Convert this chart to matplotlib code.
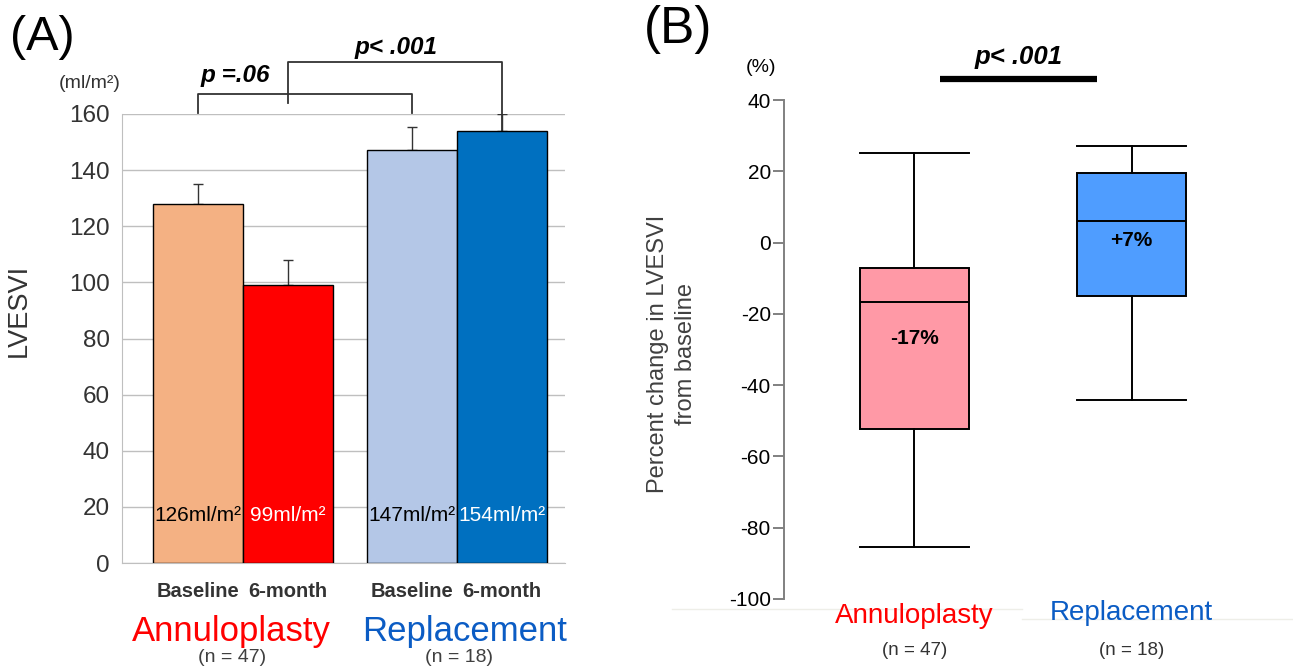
import matplotlib
matplotlib.use("Agg")
import matplotlib.pyplot as plt

# ====================================
# DATA
# ====================================

bar_groups = ["Annuloplasty", "Replacement"]
group_n = ["(n = 47)", "(n = 18)"]
bar_timepoints = ["Baseline", "6-month", "Baseline", "6-month"]
lvesvi_mean = [128, 99, 147, 154]
lvesvi_err = [7, 9, 8.5, 6]
bar_text = ["126ml/m\u00b2", "99ml/m\u00b2", "147ml/m\u00b2", "154ml/m\u00b2"]
p_values_a = ["p =.06", "p< .001"]

box_groups = ["Annuloplasty", "Replacement"]
box_whislo = [-85.4, -44.2]
box_q1 = [-52.4, -15.0]
box_med = [-16.7, 6.1]
box_q3 = [-7.1, 19.6]
box_whishi = [25.0, 27.2]
box_text = ["-17%", "+7%"]
p_value_b = "p< .001"

# ====================================
# STYLE
# ====================================

plt.rcParams["font.family"] = ["Liberation Sans", "DejaVu Sans"]
plt.rcParams["axes.unicode_minus"] = False

W, H = 1293, 670

def fx(px):
    return px / W

def fy(py):
    return 1 - py / H

bar_colors = ["#F4B183", "#FF0000", "#B4C7E7", "#0070C0"]
bar_text_colors = ["black", "white", "black", "white"]
group_colors = ["#FF0000", "#0B5CC4"]
box_colors = ["#FF99A6", "#4F9DFF"]
grid_gray = "#BFBFBF"

fig = plt.figure(figsize=(W / 100, H / 100), dpi=100)

# ====================================
# PANEL A
# ====================================

axA = fig.add_axes([fx(122), fy(563), fx(565 - 122), (563 - 114) / H])
x_pos = [0, 1, 2.383, 3.378]

axA.bar(x_pos, lvesvi_mean, width=1.0, color=bar_colors,
        edgecolor="black", linewidth=1.0, zorder=3)
axA.errorbar(x_pos, lvesvi_mean,
             yerr=[[0] * len(lvesvi_err), lvesvi_err],
             fmt="none", ecolor="#333333", elinewidth=1.0,
             capsize=3.5, zorder=2)

axA.set_xlim(-0.844, 4.08)
axA.set_ylim(0, 160)
axA.set_yticks(range(0, 161, 20))
axA.set_xticks([])
axA.grid(axis="y", color=grid_gray, linewidth=1.0, zorder=0)
for s in ["top", "right"]:
    axA.spines[s].set_visible(False)
axA.spines["left"].set_color(grid_gray)
axA.spines["bottom"].set_color(grid_gray)
axA.tick_params(axis="y", length=0, labelsize=17.5, pad=9, colors="#333333")

for x, t, c in zip(x_pos, bar_text, bar_text_colors):
    axA.text(x, 17, t, ha="center", va="center", fontsize=15, color=c,
             zorder=4)

for x, t in zip(x_pos, bar_timepoints):
    axA.text(x, -0.063, t, transform=axA.get_xaxis_transform(),
             ha="center", va="center", fontsize=14.5, fontweight="bold",
             color="#333333")

group_x = [0.37, 2.96]
n_x = [0.38, 2.9]
for i, (g, n, c) in enumerate(zip(bar_groups, group_n, group_colors)):
    axA.text(group_x[i], -0.152, g, transform=axA.get_xaxis_transform(),
             ha="center", va="center", fontsize=25, color=c)
    axA.text(n_x[i], -0.21, n, transform=axA.get_xaxis_transform(),
             ha="center", va="center", fontsize=14, color="#404040")

# significance brackets
bk = dict(color="#333333", linewidth=1.3, clip_on=False)
axA.plot([x_pos[0], x_pos[0], x_pos[2], x_pos[2]],
         [160.5, 167.1, 167.1, 160.5], **bk)
axA.plot([x_pos[1], x_pos[1]], [163.9, 167.1], **bk)
axA.plot([x_pos[1], x_pos[1], x_pos[3], x_pos[3]],
         [167.1, 178.5, 178.5, lvesvi_mean[3]], **bk)
axA.text(0.42, 173.8, p_values_a[0], ha="center", va="center",
         fontsize=17.5, fontweight="bold", fontstyle="italic")
axA.text(2.2, 183.8, p_values_a[1], ha="center", va="center",
         fontsize=17.5, fontweight="bold", fontstyle="italic")

fig.text(fx(19), fy(310), "LVESVI", rotation=90, ha="center", va="center",
         fontsize=19.5, color="#333333")
fig.text(fx(90), fy(84), "(ml/m\u00b2)", ha="center", va="center",
         fontsize=14, color="#333333")
fig.text(fx(42), fy(37), "(A)", ha="center", va="center", fontsize=35)

# ====================================
# PANEL B
# ====================================

axB = fig.add_axes([fx(784), fy(599), fx(1262 - 784), (599 - 100) / H])
stats = []
for i in range(len(box_groups)):
    stats.append(dict(whislo=box_whislo[i], q1=box_q1[i], med=box_med[i],
                      q3=box_q3[i], whishi=box_whishi[i], fliers=[]))

lw = 1.4
bp = axB.bxp(stats, positions=[1, 2], widths=0.5, patch_artist=True,
             showfliers=False,
             boxprops=dict(edgecolor="black", linewidth=lw),
             medianprops=dict(color="black", linewidth=lw),
             whiskerprops=dict(color="black", linewidth=lw),
             capprops=dict(color="black", linewidth=lw),
             capwidths=0.5)
for patch, c in zip(bp["boxes"], box_colors):
    patch.set_facecolor(c)

axB.set_xlim(0.40, 2.6)
axB.set_ylim(-100, 40)
axB.set_yticks(range(-100, 41, 20))
axB.set_xticks([])
for s in ["top", "right", "bottom"]:
    axB.spines[s].set_visible(False)
axB.spines["left"].set_color("#808080")
axB.spines["left"].set_linewidth(1.4)
axB.tick_params(axis="y", length=8, width=1.4, color="#808080",
                labelsize=15, pad=1.5)

axB.text(1, -27, box_text[0], ha="center", va="center", fontsize=15,
         fontweight="bold")
axB.text(2, 0.5, box_text[1], ha="center", va="center", fontsize=15,
         fontweight="bold")

axB.plot([1.117, 1.839], [46.0, 46.0], color="black", linewidth=4.5,
         solid_capstyle="butt", clip_on=False)
axB.text(1.48, 52.0, p_value_b, ha="center", va="center", fontsize=18.5,
         fontweight="bold", fontstyle="italic")

label_y = [-0.034, -0.028]
for i, (g, n, c) in enumerate(zip(box_groups, group_n, group_colors)):
    axB.text(i + 1, label_y[i], g, transform=axB.get_xaxis_transform(),
             ha="center", va="center", fontsize=20, color=c)
    axB.text(i + 1, -0.104, n, transform=axB.get_xaxis_transform(),
             ha="center", va="center", fontsize=13.5, color="#333333")

fig.text(fx(672), fy(354), "Percent change in LVESVI\nfrom baseline",
         rotation=90, ha="center", va="center", multialignment="center",
         fontsize=17, color="#404040", linespacing=1.35)
fig.text(fx(761), fy(68), "(%)", ha="center", va="center", fontsize=14)
fig.text(fx(678), fy(29), "(B)", ha="center", va="center", fontsize=37)

# faint separators at the bottom of panel B
fig.add_artist(plt.Line2D([fx(672), fx(1022)], [fy(609)] * 2,
                          color="#EEEEE8", linewidth=1, zorder=0))
fig.add_artist(plt.Line2D([fx(1022), 1], [fy(619)] * 2,
                          color="#EEEEE8", linewidth=1, zorder=0))

fig.savefig("out.png", dpi=100)
